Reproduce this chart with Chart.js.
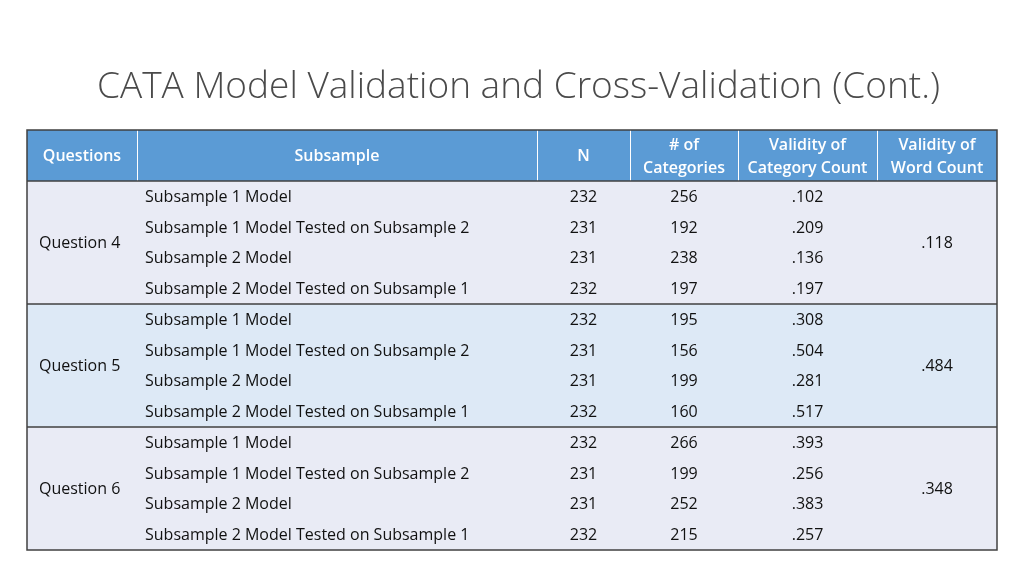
<!DOCTYPE html>
<html><head><meta charset="utf-8">
<script src="https://cdn.jsdelivr.net/npm/chart.js@4"></script>
<style>html,body{margin:0;padding:0;background:#fff;}#wrap{position:relative;width:1024px;height:576px;}</style>
</head><body><div id="wrap"><canvas id="c" width="1024" height="576"></canvas></div>
<script>
const title = "CATA Model Validation and Cross-Validation (Cont.)";
const headers = ["Questions", "Subsample", "N", "# of\nCategories", "Validity of\nCategory Count", "Validity of\nWord Count"];
const questions = ["Question 4", "Question 5", "Question 6"];
const subsamples = ["Subsample 1 Model", "Subsample 1 Model Tested on Subsample 2", "Subsample 2 Model", "Subsample 2 Model Tested on Subsample 1"];
const nValues = [[232,231,231,232],[232,231,231,232],[232,231,231,232]];
const categoryCounts = [[256,192,238,197],[195,156,199,160],[266,199,252,215]];
const validityCategory = [[".102",".209",".136",".197"],[".308",".504",".281",".517"],[".393",".256",".383",".257"]];
const validityWord = [".118", ".484", ".348"];

const colEdges = [0, 110, 510, 603, 711, 850, 970];
const headerRows = 1.66;
const groupBg = ["#e9ebf5", "#dde9f6", "#e9ebf5"];
const font = "'Open Sans', sans-serif";

const tablePlugin = {
  id: 'table',
  afterDraw(chart) {
    const ctx = chart.ctx, xs = chart.scales.x, ys = chart.scales.y;
    const X = v => xs.getPixelForValue(v), Y = v => ys.getPixelForValue(v);
    ctx.save();
    ctx.fillStyle = "#4a4a4a";
    ctx.font = "300 37px " + font;
    ctx.textBaseline = "middle"; ctx.textAlign = "left";
    ctx.fillText(title, 97, 87);
    ctx.fillStyle = "#5b9bd5";
    ctx.fillRect(X(0), Y(-headerRows), X(970) - X(0), Y(0) - Y(-headerRows));
    ctx.strokeStyle = "#ffffff"; ctx.lineWidth = 1;
    for (let i = 1; i < colEdges.length - 1; i++) {
      ctx.beginPath(); ctx.moveTo(X(colEdges[i]) + 0.5, Y(-headerRows)); ctx.lineTo(X(colEdges[i]) + 0.5, Y(0)); ctx.stroke();
    }
    ctx.fillStyle = "#ffffff"; ctx.font = "600 16px " + font; ctx.textAlign = "center";
    headers.forEach((h, i) => {
      const cx = i === 0 ? X(colEdges[0]) + 55 : (X(colEdges[i]) + X(colEdges[i + 1])) / 2;
      const lines = h.split("\n");
      const cy = (Y(-headerRows) + Y(0)) / 2 + 1;
      lines.forEach((ln, k) => ctx.fillText(ln, cx, cy + (k - (lines.length - 1) / 2) * 23));
    });
    questions.forEach((q, g) => {
      const top = Y(g * 4), bot = Y(g * 4 + 4);
      ctx.fillStyle = groupBg[g];
      ctx.fillRect(X(0), top, X(970) - X(0), bot - top);
      ctx.fillStyle = "#111111"; ctx.font = "16px " + font;
      ctx.textAlign = "left";
      ctx.fillText(q, X(0) + 12, (top + bot) / 2 + 1);
      ctx.textAlign = "center";
      ctx.fillText(validityWord[g], (X(colEdges[5]) + X(colEdges[6])) / 2, (top + bot) / 2 + 1);
      subsamples.forEach((s, r) => {
        const cy = Y(g * 4 + r + 0.5) + 1;
        ctx.textAlign = "left";
        ctx.fillText(s, X(colEdges[1]) + 8, cy);
        ctx.textAlign = "center";
        ctx.fillText(String(nValues[g][r]), (X(colEdges[2]) + X(colEdges[3])) / 2, cy);
        ctx.fillText(String(categoryCounts[g][r]), (X(colEdges[3]) + X(colEdges[4])) / 2, cy);
        ctx.fillText(validityCategory[g][r], (X(colEdges[4]) + X(colEdges[5])) / 2, cy);
      });
      if (g > 0) {
        ctx.strokeStyle = "#404040"; ctx.lineWidth = 1.5;
        ctx.beginPath(); ctx.moveTo(X(0), top); ctx.lineTo(X(970), top); ctx.stroke();
      }
    });
    ctx.strokeStyle = "#404040"; ctx.lineWidth = 1.5;
    ctx.beginPath(); ctx.moveTo(X(0), Y(0)); ctx.lineTo(X(970), Y(0)); ctx.stroke();
    ctx.strokeRect(X(0), Y(-headerRows), X(970) - X(0), Y(12) - Y(-headerRows));
    ctx.restore();
  }
};

new Chart(document.getElementById('c'), {
  type: 'scatter',
  data: { datasets: [{ data: [], pointRadius: 0 }] },
  options: {
    responsive: false, animation: false,
    layout: { padding: { left: 27, right: 27, top: 130, bottom: 26 } },
    plugins: { legend: { display: false }, tooltip: { enabled: false } },
    scales: {
      x: { type: 'linear', min: 0, max: 970, display: false },
      y: { type: 'linear', min: -headerRows, max: 12, reverse: true, display: false }
    }
  },
  plugins: [tablePlugin]
});
</script></body></html>
